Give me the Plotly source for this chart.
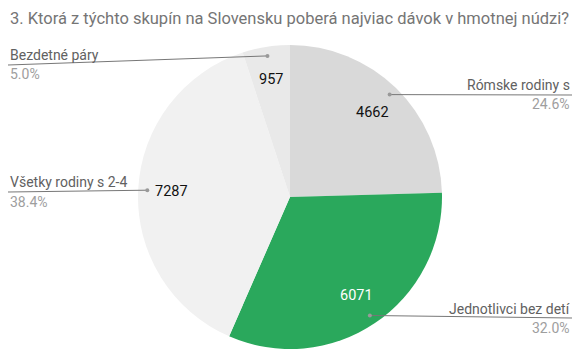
import math
import plotly.graph_objects as go

# ---- data ----
categories = ["Rómske rodiny s", "Jednotlivci bez detí", "Všetky rodiny s 2-4", "Bezdetné páry"]
values = [4662, 6071, 7287, 957]
colors = ["#d9d9d9", "#2aa85c", "#f1f1f1", "#e9e9e9"]
value_font_colors = ["#111111", "#ffffff", "#111111", "#111111"]
title_text = "3. Ktorá z týchto skupín na Slovensku poberá najviac dávok v hmotnej núdzi?"

# ---- geometry (pixels) ----
W, H = 579, 356
CX, CY, R = 290, 197, 152

def px(x):
    return x / W

def py(y):
    return 1 - y / H

# label layout: side, label y, line y at outer end, percent y
label_layout = [
    ("right", 85, 95, 104),
    ("right", 309, 318, 328),
    ("left", 182, 192, 202),
    ("left", 55, 65, 74),
]

fig = go.Figure(go.Pie(
    labels=categories,
    values=values,
    sort=False,
    direction="clockwise",
    rotation=0,
    marker=dict(colors=colors, line=dict(width=0)),
    textinfo="none",
    hoverinfo="label+value+percent",
    showlegend=False,
    domain=dict(x=[px(CX - R), px(CX + R)], y=[py(CY + R), py(CY - R)]),
))

total = sum(values)
annotations = []
shapes = []
cum = 0
for i, v in enumerate(values):
    frac = v / total
    mid = (cum + frac / 2) * 2 * math.pi
    cum += frac
    sx, sy = math.sin(mid), -math.cos(mid)
    # value label inside slice
    tx, ty = CX + sx * R * 0.78, CY + sy * R * 0.78
    annotations.append(dict(
        x=px(tx), y=py(ty), xref="paper", yref="paper", text=str(v), showarrow=False,
        font=dict(family="Roboto", size=14.5, color=value_font_colors[i]),
        xanchor="center", yanchor="middle"))
    # leader line
    dx, dy = CX + sx * R * 0.94, CY + sy * R * 0.94
    side, ly, liney, pcy = label_layout[i]
    ex = 572 if side == "right" else 8
    shapes.append(dict(type="line", xref="paper", yref="paper",
                       x0=px(dx), y0=py(dy), x1=px(ex), y1=py(liney),
                       line=dict(color="#777777", width=1)))
    shapes.append(dict(type="circle", xref="paper", yref="paper",
                       x0=px(dx - 2), y0=py(dy - 2), x1=px(dx + 2), y1=py(dy + 2),
                       fillcolor="#999999", line=dict(width=0)))
    anchor = "right" if side == "right" else "left"
    annotations.append(dict(
        x=px(ex), y=py(ly), xref="paper", yref="paper", text=categories[i], showarrow=False,
        font=dict(family="Roboto", size=14, color="#616161"),
        xanchor=anchor, yanchor="middle"))
    annotations.append(dict(
        x=px(ex), y=py(pcy), xref="paper", yref="paper", text=f"{frac*100:.1f}%", showarrow=False,
        font=dict(family="Roboto", size=14, color="#9e9e9e"),
        xanchor=anchor, yanchor="middle"))

annotations.append(dict(
    x=px(8), y=py(18), xref="paper", yref="paper", text=title_text, showarrow=False,
    font=dict(family="Roboto", size=16.5, color="#757575"),
    xanchor="left", yanchor="middle"))

fig.update_layout(
    width=W, height=H,
    margin=dict(l=0, r=0, t=0, b=0),
    paper_bgcolor="white", plot_bgcolor="white",
    annotations=annotations, shapes=shapes,
)

fig.write_html("out.html", config={"displayModeBar": False},
               post_script="document.body.style.margin='0';document.body.style.overflow='hidden';")
